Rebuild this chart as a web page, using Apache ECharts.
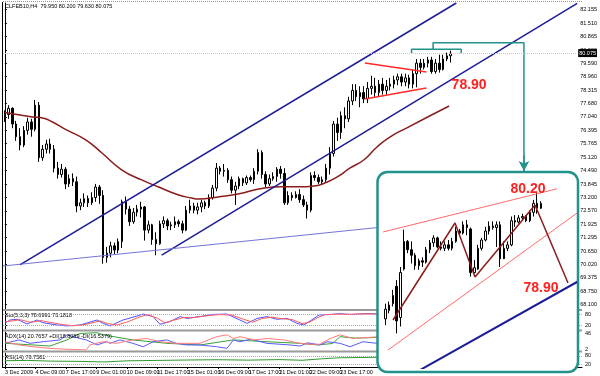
<!DOCTYPE html>
<html>
<head>
<meta charset="utf-8">
<script src="https://cdn.jsdelivr.net/npm/echarts@6/dist/echarts.min.js"></script>
<style>
html, body { margin: 0; padding: 0; background: #fff; }
#chart { width: 600px; height: 376px; }
</style>
</head>
<body>
<div id="chart"></div>
<script>
// right price scale labels
var tickLabels = [82.155, 81.510, 80.865, 80.220, 79.590, 78.960, 78.315, 77.680, 77.040, 76.395, 75.765, 75.120,
    74.490, 73.845, 73.200, 72.570, 71.925, 71.295, 70.650, 70.020, 69.375, 68.750, 68.100];
// time labels, one every 8 bars
var xLabels = ['3 Dec 2009', '4 Dec 09:00', '7 Dec 17:00', '9 Dec 01:00', '10 Dec 09:00', '11 Dec 17:00',
    '15 Dec 01:00', '16 Dec 09:00', '17 Dec 17:00', '21 Dec 01:00', '22 Dec 09:00', '23 Dec 17:00', '28 Dec 01:00'];

// H4 candles [open, close, low, high]
var mainCandles = [
    [77.0, 77.15, 76.8, 77.35], [77.15, 77.45, 76.95, 77.6], [77.45, 76.7, 76.5, 77.5], [76.7, 76.1, 75.9, 76.85],
    [76.1, 75.7, 75.45, 76.5], [75.7, 76.4, 75.6, 76.6], [76.4, 76.8, 76.2, 77.0], [76.8, 76.45, 76.1, 76.95],
    [76.45, 77.6, 76.35, 77.85], [77.6, 75.1, 74.9, 77.75], [75.1, 75.5, 74.95, 75.7], [75.5, 75.75, 75.3, 75.95],
    [75.75, 75.5, 75.3, 76.0], [75.5, 74.6, 74.4, 75.7], [74.6, 74.3, 74.1, 74.9], [74.3, 74.55, 74.15, 74.8],
    [74.55, 73.85, 73.6, 74.65], [73.85, 74.1, 73.7, 74.3], [74.1, 73.95, 73.75, 74.35], [73.95, 72.8, 72.5, 74.2],
    [72.8, 72.95, 72.6, 73.15], [72.95, 73.15, 72.75, 73.4], [73.15, 72.95, 72.75, 73.3], [72.95, 73.2, 72.85, 73.45],
    [73.2, 73.7, 73.0, 73.85], [73.7, 73.3, 72.9, 73.8], [73.3, 70.35, 70.05, 73.55], [70.35, 70.55, 70.1, 70.85],
    [70.55, 70.9, 70.35, 71.1], [70.9, 70.7, 70.5, 71.05], [70.7, 71.1, 70.55, 71.25], [71.1, 73.0, 70.8, 73.1],
    [73.0, 72.65, 72.4, 73.25], [72.65, 72.05, 71.85, 72.8], [72.05, 72.5, 71.95, 72.7], [72.5, 72.65, 72.3, 72.85],
    [72.65, 72.75, 72.25, 73.0], [72.75, 71.65, 71.15, 72.8], [71.65, 71.9, 71.5, 72.1], [71.9, 71.2, 70.95, 71.95],
    [71.2, 71.0, 70.45, 71.55], [71.0, 71.95, 70.95, 72.1], [71.95, 72.1, 71.75, 72.3], [72.1, 71.85, 71.65, 72.2],
    [71.85, 71.9, 71.65, 72.05], [71.9, 72.05, 71.75, 72.3], [72.05, 71.95, 71.8, 72.15], [71.95, 71.65, 71.5, 72.1],
    [71.65, 72.6, 71.6, 72.8], [72.6, 72.8, 72.45, 73.1], [72.8, 72.6, 72.45, 72.95], [72.6, 72.75, 72.4, 72.95],
    [72.75, 72.95, 72.5, 73.1], [72.95, 72.8, 72.65, 73.05], [72.8, 73.2, 72.7, 73.35], [73.2, 73.65, 73.1, 73.8],
    [73.65, 74.6, 73.5, 74.85], [74.6, 74.45, 74.3, 74.7], [74.45, 74.5, 74.2, 74.8], [74.5, 74.05, 73.9, 74.6],
    [74.05, 73.55, 73.4, 74.2], [73.55, 73.75, 72.85, 73.95], [73.75, 74.1, 73.6, 74.2], [74.1, 73.9, 73.75, 74.15],
    [73.9, 74.15, 73.8, 74.25], [74.15, 74.05, 73.95, 74.25], [74.05, 74.45, 73.85, 74.6], [74.45, 75.35, 74.3, 75.5],
    [75.35, 74.3, 74.1, 75.45], [74.3, 73.85, 73.7, 74.45], [73.85, 74.1, 73.75, 74.3], [74.1, 74.2, 74.0, 74.4],
    [74.2, 74.55, 73.95, 74.65], [74.55, 74.35, 74.1, 74.7], [74.35, 72.95, 72.85, 74.6], [72.95, 73.3, 72.85, 73.5],
    [73.3, 73.2, 73.05, 73.45], [73.2, 73.35, 73.15, 73.5], [73.35, 73.1, 72.95, 73.6], [73.1, 72.85, 72.75, 73.3],
    [72.85, 72.6, 72.2, 73.0], [72.6, 74.25, 72.5, 74.4], [74.25, 74.15, 74.0, 74.45], [74.15, 73.95, 73.85, 74.3],
    [73.95, 74.05, 73.8, 74.2], [74.05, 74.6, 73.95, 74.8], [74.6, 75.3, 74.3, 75.6], [75.3, 76.7, 75.15, 76.85],
    [76.7, 76.3, 75.9, 77.0], [76.3, 77.1, 76.0, 77.3], [77.1, 76.95, 76.5, 77.5], [76.95, 77.8, 76.8, 78.0],
    [77.8, 78.3, 77.6, 78.6], [78.3, 78.0, 77.8, 78.6], [78.0, 78.2, 77.5, 78.5], [78.2, 77.9, 77.7, 78.5],
    [77.9, 78.4, 77.7, 78.7], [78.4, 78.5, 78.1, 79.0], [78.5, 78.2, 78.0, 78.9], [78.2, 78.6, 78.0, 78.8],
    [78.6, 78.3, 78.1, 78.9], [78.3, 78.5, 78.1, 78.8], [78.5, 78.6, 78.3, 78.9], [78.6, 78.8, 78.4, 79.0],
    [78.8, 78.95, 78.55, 79.1], [78.95, 78.7, 78.5, 79.1], [78.7, 78.9, 78.5, 79.1], [78.9, 78.6, 78.4, 79.05],
    [78.6, 79.1, 78.4, 79.3], [79.1, 79.6, 78.45, 79.8], [79.6, 79.4, 79.1, 79.8], [79.4, 79.6, 79.3, 79.8],
    [79.6, 79.75, 79.4, 79.9], [79.75, 79.2, 79.1, 79.9], [79.2, 79.6, 79.1, 79.8], [79.6, 79.3, 79.15, 80.0],
    [79.3, 79.8, 79.25, 80.0], [79.8, 79.95, 79.7, 80.1], [79.95, 80.075, 79.63, 80.2]
];
// moving average [bar, price]
var maLine = [[0, 77.25], [4, 77.13], [7.4, 77.04], [10, 76.99], [12.6, 76.80], [16.3, 76.42], [21.5, 75.94],
    [25.7, 75.32], [31, 74.51], [36.2, 74.04], [40.7, 73.70], [46, 73.32], [49.4, 73.18], [51.2, 73.13],
    [56.5, 73.23], [61.7, 73.37], [68.8, 73.66], [73, 73.71], [77.5, 73.71], [81.9, 73.75], [85.3, 73.94],
    [88, 74.18], [91.4, 74.61], [95, 74.99], [98.5, 75.61], [101.9, 76.08], [106.3, 76.51], [117.6, 77.56]];
// drawn trend lines [bar, price]
var channelUpper = [[3.96, 69.99], [119.5, 82.465]];
var channelLower = [[41.5, 70.46], [151.5, 82.45]];
var supportLine = [[-0.5, 69.94], [111.6, 72.01]];
var pennantUpper = [[95.3, 79.607], [111.6, 79.179]];
var pennantLower = [[95.3, 77.893], [111.6, 78.417]];
var tealBracket = [[107.66, 80.069], [107.66, 80.26], [120.79, 80.26], [120.79, 80.069]];
var tealLink = [[113.36, 80.26], [113.36, 80.574], [137.41, 80.574], [137.41, 74.47]];

// indicators [bar, value]
var stochMain = [[0, 31], [1.3, 50], [3.2, 54], [5.8, 28], [7.4, 41], [8.4, 50], [10, 35], [13.7, 22], [16.3, 17],
    [19.7, 22], [24.2, 50], [25.8, 31], [27.6, 17], [31, 50], [34.7, 72], [36.3, 83], [38.9, 69], [40.7, 26],
    [43.3, 41], [46, 69], [47.8, 59], [51.2, 69], [54.6, 81], [58.3, 83], [61.7, 50], [63.6, 31], [66.2, 59],
    [68.8, 69], [71.4, 54], [74.1, 59], [76.7, 31], [78.5, 22], [80.5, 50], [82.5, 78], [85, 80], [88, 85],
    [91, 80], [95, 86], [99, 82], [102, 84]];
var stochSignal = [[0, 40], [2, 45], [4, 52], [6.5, 38], [8.5, 42], [9.5, 47], [11, 40], [15, 25], [18, 18],
    [21, 25], [25, 45], [27, 30], [29.5, 22], [32.5, 42], [35.5, 68], [37.5, 80], [40, 60], [42, 35], [44.5, 50],
    [47, 64], [49, 62], [52.5, 72], [56, 80], [59.5, 78], [62.5, 55], [65, 38], [67.5, 58], [70, 66], [72.5, 58],
    [75.5, 52], [78, 30], [80, 38], [82, 62], [84, 80], [87, 82], [90, 82], [94, 84], [98, 83], [102, 85]];
var adxMain = [[0, 18.5], [7.4, 14], [11.8, 11], [16.3, 28], [19.7, 46], [24.2, 48], [25.8, 42], [33.6, 28],
    [42.5, 18.5], [51.2, 14], [60, 28], [68.8, 23], [77.5, 18.5], [82, 14], [86, 18], [88, 37], [92, 33], [98.5, 35]];
var plusDI = [[0, 18.5], [3.7, 28], [6.6, 18.5], [10, 23], [14.5, 28], [16.3, 42], [19.7, 32], [21.4, 28],
    [24.2, 14], [26.7, 23], [27.6, 18.5], [30.2, 28], [33.6, 18.5], [36.3, 9], [38.9, 23], [42.5, 28], [45, 18.5],
    [47.8, 14], [51.2, 14], [55.6, 9], [58.3, 4.6], [60, 28], [61.7, 23], [64.5, 30], [68.8, 18.5], [74.9, 14],
    [77.5, 11], [79.5, 20], [82.7, 14], [84.6, 23], [88, 18.5], [90.6, 9], [94, 23], [97.7, 18.5]];
var minusDI = [[0, 23], [3.7, 14], [7.4, 9], [11.8, 4.6], [16.3, 2], [21.4, 0.5], [22.3, 14], [25.8, 23],
    [29.3, 18.5], [33.6, 28], [37.2, 32], [40.7, 23], [45, 18.5], [51.2, 18.5], [55.6, 37], [58.3, 42], [60, 32],
    [61.7, 37], [65.4, 28], [68.8, 32], [73.2, 28], [77.5, 18.5], [80, 16], [82.7, 16], [85.4, 32], [88, 42],
    [91.4, 32], [98.5, 37]];
var rsiLine = [[0, 45], [6, 47], [12, 42], [20, 40], [26, 36], [32, 44], [40, 47], [48, 50], [56, 52], [64, 49],
    [72, 53], [78, 48], [84, 60], [88, 66], [94, 68], [100, 70]];

// zoomed inset candles [open, close, low, high]
var insetCandles = ['-',
    [78.38, 78.52, 78.29, 78.60], [78.50, 78.58, 78.46, 78.63], [78.60, 78.72, 78.56, 78.80], [78.85, 78.35, 78.17, 78.94],
    [78.40, 79.05, 78.27, 79.13], [79.10, 79.50, 79.08, 79.67], [79.50, 79.38, 79.33, 79.52], [79.38, 79.30, 79.18, 79.50],
    [79.30, 79.15, 79.09, 79.33], [79.15, 79.22, 79.09, 79.25], [79.22, 79.20, 79.13, 79.27], [79.20, 79.38, 79.18, 79.42],
    [79.38, 79.48, 79.33, 79.52], [79.48, 79.55, 79.42, 79.59], [79.55, 79.42, 79.40, 79.57], [79.42, 79.40, 79.37, 79.50],
    [79.40, 79.45, 79.36, 79.50], [79.45, 79.40, 79.37, 79.52], [79.40, 79.50, 79.37, 79.55], [79.50, 79.65, 79.48, 79.71],
    [79.65, 79.62, 79.58, 79.68], [79.62, 79.74, 79.60, 79.79], [79.74, 79.70, 79.59, 79.81], [79.68, 79.05, 78.99, 79.70],
    [79.05, 79.12, 79.04, 79.23], [79.10, 79.40, 79.09, 79.45], [79.40, 79.52, 79.37, 79.55], [79.52, 79.65, 79.50, 79.71],
    [79.65, 79.72, 79.60, 79.79], [79.72, 79.70, 79.67, 79.79], [79.70, 79.74, 79.42, 79.79], [79.74, 79.25, 79.13, 79.79],
    [79.25, 79.40, 79.33, 79.50], [79.40, 79.45, 79.36, 79.50], [79.45, 79.80, 79.43, 79.86], [79.80, 79.78, 79.71, 79.88],
    [79.78, 79.84, 79.76, 79.88], [79.84, 79.86, 79.80, 79.90], [79.86, 79.80, 79.78, 79.88], [79.80, 79.92, 79.78, 79.95],
    [79.92, 80.05, 79.86, 80.10], [80.05, 79.98, 79.90, 80.20], [79.98, 80.05, 79.97, 80.08]
];
var insetUpper = [[0.31, 79.636], [47.36, 80.26]];
var insetLower = [[1.66, 77.93], [55, 79.996]];
var insetBlue = [[10.3, 77.64], [55, 78.98]];
var zigzag = [[3.02, 78.364], [19.78, 79.766], [25.19, 78.986], [41.41, 80.026], [50.34, 78.899]];

// red price notes: [xAxisIndex, yAxisIndex, bar, price, text]
var priceNotes = [[1, 0, 122.9, 78.56, '78.90'], [7, 4, 39.52, 80.258, '80.20'], [7, 4, 43.04, 78.827, '78.90']];

var MAIN_SLOTS = 152;
var INSET_SLOTS = 53;
var cats = [];
for (var i = 0; i < MAIN_SLOTS; i++) cats.push(String(i));
var insetCats = [];
for (var j = 0; j < INSET_SLOTS; j++) insetCats.push(String(j));

var lastClose = mainCandles[mainCandles.length - 1][1];
var FONT = 'Liberation Sans';
var TEAL = '#23918c';
var NAVY = '#1c1c96';

function plainLine(data, xIdx, yIdx, color, width, extra) {
    var s = {
        type: 'line', data: data, xAxisIndex: xIdx, yAxisIndex: yIdx,
        symbol: 'none', silent: true,
        lineStyle: { color: color, width: width }
    };
    for (var k in extra) s[k] = extra[k];
    return s;
}

function hiddenValueX(grid, max) {
    return { type: 'value', gridIndex: grid, min: -0.5, max: max, show: false };
}

function panelY(grid, min, max, labels) {
    return {
        type: 'value', gridIndex: grid, position: 'right', min: min, max: max,
        splitLine: { show: false },
        axisLine: { show: true, lineStyle: { color: '#000', width: 1 } },
        axisTick: { show: true, customValues: labels, length: 2, lineStyle: { color: '#000' } },
        axisLabel: { customValues: labels, fontSize: 5.5, color: '#000', margin: 3, fontFamily: FONT }
    };
}

var chart = echarts.init(document.getElementById('chart'));

var option = {
    animation: false,
    backgroundColor: '#fff',
    grid: [
        { left: 3, top: 3, width: 579, height: 306 },
        { left: 3, top: 311, width: 579, height: 18 },
        { left: 3, top: 332, width: 579, height: 18 },
        { left: 3, top: 353, width: 579, height: 14 },
        { left: 380, top: 175, width: 196, height: 193 }
    ],
    xAxis: [
        { type: 'category', gridIndex: 0, data: cats, show: false },
        hiddenValueX(0, MAIN_SLOTS - 0.5),
        hiddenValueX(1, MAIN_SLOTS - 0.5),
        hiddenValueX(2, MAIN_SLOTS - 0.5),
        {
            type: 'category', gridIndex: 3, data: cats,
            axisLine: { show: true, lineStyle: { color: '#000', width: 1 } },
            axisTick: {
                show: true, alignWithLabel: true, length: 2, lineStyle: { color: '#000' },
                interval: function (idx) { return idx % 8 === 0 && idx / 8 < xLabels.length; }
            },
            axisLabel: {
                fontSize: 5.5, color: '#000', margin: 2, align: 'left', fontFamily: FONT,
                interval: function (idx) { return idx % 8 === 0 && idx / 8 < xLabels.length; },
                formatter: function (v, idx) { return xLabels[idx / 8] || ''; }
            }
        },
        hiddenValueX(3, MAIN_SLOTS - 0.5),
        { type: 'category', gridIndex: 4, data: insetCats, show: false },
        hiddenValueX(4, INSET_SLOTS - 0.5)
    ],
    yAxis: [
        {
            type: 'value', gridIndex: 0, position: 'right', min: 67.893, max: 82.465,
            splitLine: { show: false },
            axisLine: { show: true, lineStyle: { color: '#000', width: 1 } },
            axisTick: { show: true, customValues: tickLabels, length: 2, lineStyle: { color: '#000' } },
            axisLabel: {
                customValues: tickLabels, fontSize: 5.5, color: '#000', margin: 3, fontFamily: FONT,
                formatter: function (v) { return v.toFixed(3); }
            }
        },
        panelY(1, 0, 100, [80, 20]),
        panelY(2, 0, 50, [46, 2]),
        panelY(3, 0, 100, [80, 20]),
        { type: 'value', gridIndex: 4, min: 77.67, max: 80.46, show: false }
    ],
    graphic: [
        { type: 'line', shape: { x1: 2.5, y1: 2, x2: 2.5, y2: 368 }, style: { stroke: '#000', lineWidth: 1 }, z: 5 },
        { type: 'line', shape: { x1: 3, y1: 1.5, x2: 582, y2: 1.5 }, style: { stroke: '#999', lineWidth: 1, lineDash: [1, 1] }, z: 5 },
        { type: 'rect', shape: { x: 3, y: 309, width: 579, height: 2 }, style: { fill: '#9a9a9a' }, z: 5 },
        { type: 'rect', shape: { x: 3, y: 329.5, width: 579, height: 2 }, style: { fill: '#9a9a9a' }, z: 5 },
        { type: 'rect', shape: { x: 3, y: 350.5, width: 579, height: 2 }, style: { fill: '#9a9a9a' }, z: 5 },
        { type: 'text', x: 5, y: 3, z: 5, style: { text: 'CLFEB10,H4  79.950 80.200 79.630 80.075', fill: '#000', fontSize: 5.5, fontFamily: FONT } },
        { type: 'text', x: 5, y: 312, z: 5, style: { text: 'Sto(5,3,3) 78.6991 73.1818', fill: '#000', fontSize: 5.5, fontFamily: FONT } },
        { type: 'text', x: 5, y: 333, z: 5, style: { text: 'ADX(14) 20.7657 +DI(18.8089 -DI(16.5379)', fill: '#000', fontSize: 5.5, fontFamily: FONT } },
        { type: 'text', x: 5, y: 354, z: 5, style: { text: 'RSI(14) 76.7581', fill: '#000', fontSize: 5.5, fontFamily: FONT } },
        // zoomed inset frame
        {
            type: 'rect', z: 100,
            shape: { x: 377.5, y: 172, width: 200.5, height: 200, r: 10 },
            style: { fill: '#fff', stroke: TEAL, lineWidth: 2.5 }
        }
    ],
    series: [
        {
            type: 'candlestick', xAxisIndex: 0, yAxisIndex: 0, data: mainCandles, barWidth: 2, silent: true,
            itemStyle: { color: '#fff', color0: '#000', borderColor: '#000', borderColor0: '#000', borderWidth: 1 },
            markLine: {
                symbol: 'none', silent: true,
                data: [{ yAxis: lastClose }],
                lineStyle: { color: '#c8c8c8', type: 'dotted', width: 1 },
                label: {
                    position: 'end', distance: 1, formatter: lastClose.toFixed(3),
                    backgroundColor: '#000', color: '#fff', fontSize: 5.5, padding: [1, 1], fontFamily: FONT
                }
            }
        },
        plainLine(maLine, 1, 0, '#8b1c1c', 1.5, { smooth: true }),
        plainLine(channelUpper, 1, 0, NAVY, 1.5),
        plainLine(channelLower, 1, 0, NAVY, 1.5),
        plainLine(supportLine, 1, 0, '#7474d8', 1),
        plainLine(pennantUpper, 1, 0, '#ff2a2a', 1.5),
        plainLine(pennantLower, 1, 0, '#ff2a2a', 1.5),
        plainLine(tealBracket, 1, 0, TEAL, 1.5),
        plainLine(tealLink, 1, 0, TEAL, 1.5, {
            markLine: {
                silent: true, symbol: ['none', 'arrow'], symbolSize: [8, 10],
                lineStyle: { color: TEAL, width: 1.5, type: 'solid' }, label: { show: false },
                data: [[{ coord: [tealLink[3][0], 75.2] }, { coord: tealLink[3] }]]
            }
        }),
        plainLine(stochMain, 2, 1, '#5050ff', 1, {
            markLine: {
                silent: true, symbol: 'none', label: { show: false },
                lineStyle: { color: '#aaa', type: 'dotted', width: 1 },
                data: [{ yAxis: 80 }, { yAxis: 20 }]
            }
        }),
        plainLine(stochSignal, 2, 1, '#ff5a5a', 1),
        plainLine(adxMain, 3, 2, '#3aa03a', 1),
        plainLine(plusDI, 3, 2, '#5a5aff', 1),
        plainLine(minusDI, 3, 2, '#ff7a7a', 1),
        plainLine(rsiLine, 5, 3, '#2e9a2e', 1, {
            markLine: {
                silent: true, symbol: 'none', label: { show: false },
                lineStyle: { color: '#aaa', type: 'dotted', width: 1 },
                data: [{ yAxis: 80 }, { yAxis: 20 }]
            }
        }),
        // inset
        {
            type: 'candlestick', xAxisIndex: 6, yAxisIndex: 4, data: insetCandles, barWidth: 2, silent: true, z: 110,
            itemStyle: { color: '#fff', color0: '#000', borderColor: '#000', borderColor0: '#000', borderWidth: 1 }
        },
        plainLine(insetUpper, 7, 4, '#ff6a6a', 1, { z: 112 }),
        plainLine(insetLower, 7, 4, '#ff6a6a', 1, { z: 112 }),
        plainLine(insetBlue, 7, 4, NAVY, 2, { z: 112 }),
        plainLine(zigzag, 7, 4, '#8b1c1c', 1.5, {
            z: 113,
            markLine: {
                silent: true, symbol: ['none', 'arrow'], symbolSize: [8, 10],
                lineStyle: { color: '#8b1c1c', width: 1.5, type: 'solid' }, label: { show: false },
                data: [[{ coord: zigzag[3] }, { coord: zigzag[4] }]]
            }
        })
    ]
};

chart.setOption(option);

// place the red price notes from data coordinates, on top of the inset
priceNotes.forEach(function (n) {
    var pt = chart.convertToPixel({ xAxisIndex: n[0], yAxisIndex: n[1] }, [n[2], n[3]]);
    if (!pt) return;
    option.graphic.push({
        type: 'text', z: 150, x: pt[0], y: pt[1],
        style: {
            text: n[4], fill: '#ff2020', fontSize: 14, fontWeight: 'bold', fontFamily: FONT,
            align: 'center', verticalAlign: 'middle'
        }
    });
});
chart.setOption(option, true);
</script>
</body>
</html>
